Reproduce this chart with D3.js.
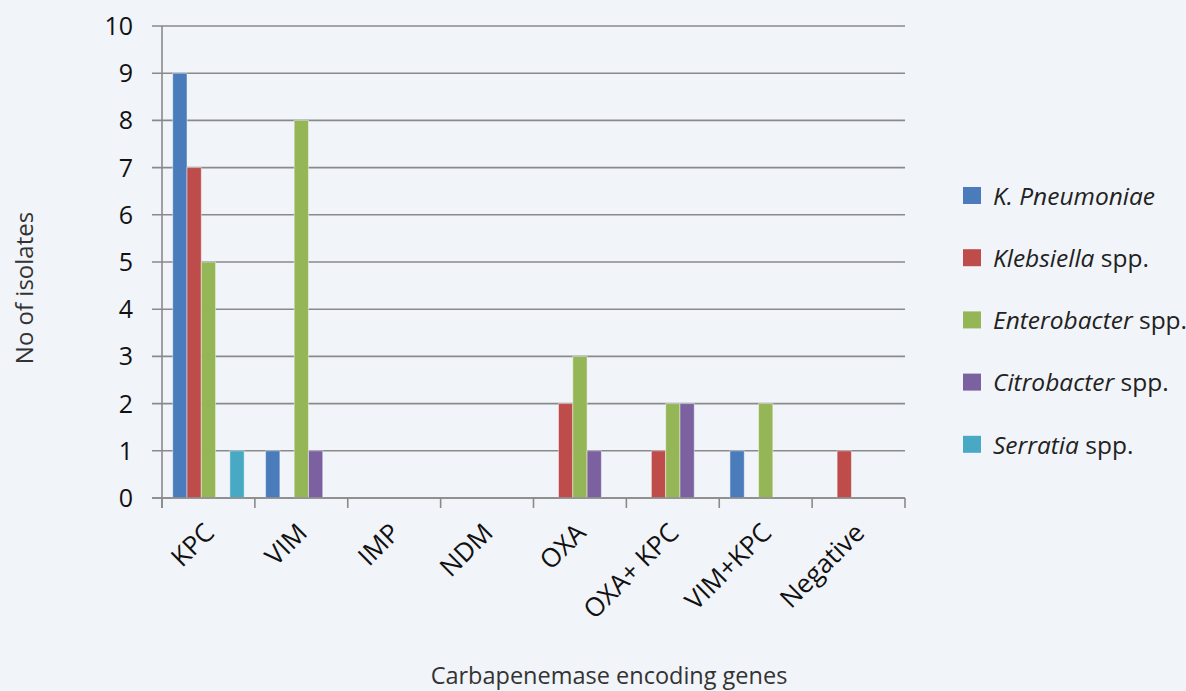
<!DOCTYPE html>
<html><head><meta charset="utf-8">
<script src="https://cdn.jsdelivr.net/npm/d3@7"></script>
<style>
html,body{margin:0;padding:0;background:#f1f4f9;}
svg{display:block;}
</style></head>
<body>
<svg id="chart" width="1186" height="691"></svg>
<script>
const categories = ["KPC","VIM","IMP","NDM","OXA","OXA+ KPC","VIM+KPC","Negative"];
const seriesNames = ["K. Pneumoniae","Klebsiella","Enterobacter","Citrobacter","Serratia"];
const seriesSuffix = ["", " spp.", " spp.", " spp.", " spp."];
const kPneumoniae = [9,1,0,0,0,0,1,0];
const klebsiella  = [7,0,0,0,2,1,0,1];
const enterobacter= [5,8,0,0,3,2,2,0];
const citrobacter = [0,1,0,0,1,2,0,0];
const serratia    = [1,0,0,0,0,0,0,0];
const yTicks = [0,1,2,3,4,5,6,7,8,9,10];
const colors = ["#4a7bbb","#bd4c4a","#95b656","#7c61a1","#47a9c4"];
const seriesValues = [kPneumoniae, klebsiella, enterobacter, citrobacter, serratia];

const svg = d3.select("#chart");
const L = 162, R = 905, T = 26, B = 498;
const x = d3.scaleBand().domain(categories).range([L, R]).paddingInner(0).paddingOuter(0);
const xs = d3.scaleBand().domain(d3.range(seriesNames.length)).range([0, x.bandwidth()]).paddingInner(0).paddingOuter(0.75);
const y = d3.scaleLinear().domain([0,10]).range([B, T]);

const grid = "#8a8a8a";
// gridlines
svg.append("g").selectAll("line").data(yTicks).join("line")
  .attr("x1", L-10).attr("x2", R).attr("y1", d=>y(d)).attr("y2", d=>y(d))
  .attr("stroke", grid).attr("stroke-width", 1.6);

// bars
const gCat = svg.append("g").selectAll("g").data(categories).join("g")
  .attr("transform", d=>`translate(${x(d)},0)`);
gCat.selectAll("rect").data((c,i)=>seriesValues.map((s,j)=>({j, v:s[i]})).filter(d=>d.v>0)).join("rect")
  .attr("x", d=>xs(d.j)).attr("width", xs.bandwidth())
  .attr("y", d=>y(d.v)).attr("height", d=>B - y(d.v))
  .attr("fill", d=>colors[d.j])
  .attr("stroke", "rgba(255,255,255,0.45)").attr("stroke-width", 1);

// y axis line
svg.append("line").attr("x1",L).attr("x2",L).attr("y1",T).attr("y2",B+10)
  .attr("stroke",grid).attr("stroke-width",1.6);
// x axis line + ticks
svg.append("line").attr("x1",L-10).attr("x2",R).attr("y1",B).attr("y2",B)
  .attr("stroke",grid).attr("stroke-width",1.6);
const xTickPos = categories.map(c=>x(c)).concat([R]);
svg.append("g").selectAll("line").data(xTickPos).join("line")
  .attr("x1",d=>d).attr("x2",d=>d).attr("y1",B).attr("y2",B+10)
  .attr("stroke",grid).attr("stroke-width",1.6);

// y tick labels
svg.append("g").selectAll("text").data(yTicks).join("text")
  .attr("x", 133).attr("y", d=>y(d)).attr("dy","0.36em")
  .attr("text-anchor","end")
  .style("font-family","'Open Sans', sans-serif").style("font-size","25px").attr("fill","#111")
  .text(d=>d);

// x tick labels
svg.append("g").selectAll("text").data(categories).join("text")
  .attr("transform", d=>`translate(${x(d)+x.bandwidth()/2+1},${B+30}) rotate(-45)`)
  .attr("text-anchor","end").attr("dy","0.35em")
  .style("font-family","'Open Sans', sans-serif").style("font-size","26px").attr("fill","#111")
  .text(d=>d);

// axis titles
const titleFont = "'Open Sans', sans-serif";
svg.append("text").attr("transform","translate(33,288) rotate(-90)")
  .attr("text-anchor","middle")
  .style("font-family",titleFont).style("font-size","24px").attr("fill","#333")
  .text("No of isolates");
svg.append("text").attr("x",609).attr("y",684).attr("text-anchor","middle")
  .style("font-family",titleFont).style("font-size","23.5px").attr("fill","#333")
  .text("Carbapenemase encoding genes");

// legend
const lg = svg.append("g").selectAll("g").data(seriesNames).join("g")
  .attr("transform",(d,i)=>`translate(963,${196 + i*62.2})`);
lg.append("rect").attr("x",0).attr("y",-9).attr("width",18).attr("height",17)
  .attr("fill",(d,i)=>colors[i]);
const lt = lg.append("text").attr("x",30).attr("y",0).attr("dy","0.36em")
  .style("font-family",titleFont).style("font-size","24.5px").attr("fill","#222");
lt.append("tspan").style("font-style","italic").text(d=>d);
lt.append("tspan").text((d,i)=>seriesSuffix[i]);
</script>
</body></html>
